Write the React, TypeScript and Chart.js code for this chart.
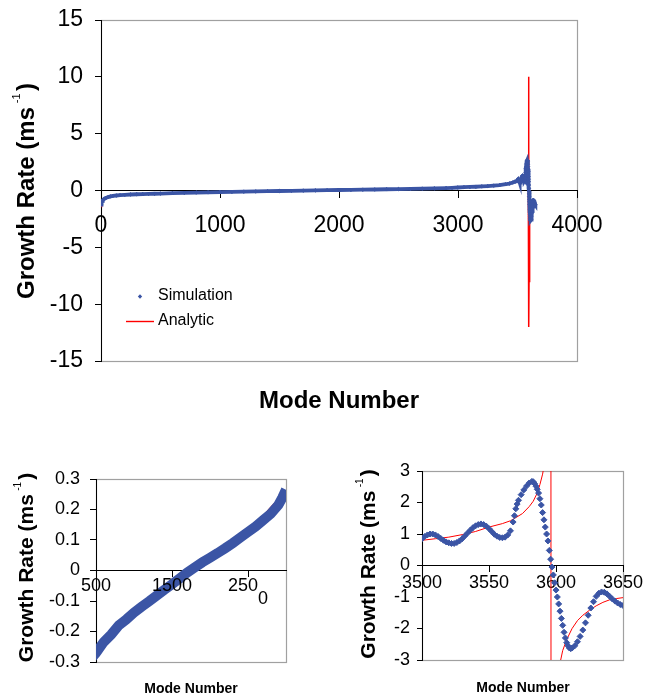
import React, { useEffect, useRef } from 'react';
import { Chart, registerables } from 'chart.js';

Chart.register(...registerables);

const FONT = "'Liberation Sans', Arial, Helvetica, sans-serif";
const BLUE = '#3b55a5';
const RED = '#ff0000';
const FRAME = '#a0a0a0';

// ---- Simulation: mode number vs growth rate (coarse part, 0..3480) ----
const SIM_MODE_A = [0, 3, 6, 10, 15, 20, 30, 40, 60, 80, 100, 130, 160, 200, 250, 300, 350, 400, 450, 500, 600, 700, 800, 900, 1000, 1100, 1200, 1300, 1400, 1500, 1600, 1700, 1800, 1900, 2000, 2100, 2200, 2300, 2400, 2500, 2600, 2700, 2800, 2900, 2950, 3000, 3050, 3100, 3150, 3200, 3250, 3300, 3350, 3400, 3430, 3460, 3480];
const SIM_RATE_A = [-1.25, -1.1, -1.0, -0.92, -0.85, -0.8, -0.72, -0.66, -0.58, -0.52, -0.48, -0.44, -0.41, -0.38, -0.35, -0.33, -0.31, -0.295, -0.285, -0.27, -0.235, -0.21, -0.18, -0.16, -0.138, -0.119, -0.101, -0.082, -0.063, -0.045, -0.026, -0.007, 0.01, 0.027, 0.042, 0.057, 0.073, 0.09, 0.108, 0.126, 0.144, 0.165, 0.186, 0.215, 0.238, 0.265, 0.29, 0.31, 0.33, 0.36, 0.39, 0.43, 0.48, 0.55, 0.61, 0.7, 0.78];

// ---- Simulation: fine part, 3500..3650 ----
const SIM_MODE_B = [3500, 3502, 3504, 3506, 3508, 3510, 3512, 3514, 3516, 3518, 3520, 3522, 3524, 3526, 3528, 3530, 3532, 3534, 3536, 3538, 3540, 3542, 3544, 3546, 3548, 3550, 3552, 3554, 3556, 3558, 3560, 3562, 3564, 3566, 3568, 3569, 3570, 3571, 3572, 3574, 3576, 3578, 3580, 3582, 3583, 3584, 3585, 3586, 3587, 3588, 3589, 3590, 3591, 3592, 3593, 3594, 3595, 3596, 3597, 3598, 3599, 3600, 3601, 3602, 3603, 3604, 3605, 3606, 3607, 3608, 3609, 3610, 3611, 3612, 3614, 3616, 3618, 3620, 3622, 3624, 3626, 3628, 3630, 3632, 3634, 3636, 3638, 3640, 3642, 3644, 3646, 3648, 3650];
const SIM_RATE_B = [0.85, 0.92, 0.97, 1.0, 1.0, 0.97, 0.92, 0.86, 0.8, 0.75, 0.72, 0.7, 0.7, 0.73, 0.78, 0.85, 0.94, 1.03, 1.12, 1.2, 1.26, 1.3, 1.32, 1.3, 1.25, 1.17, 1.08, 0.99, 0.93, 0.89, 0.88, 0.9, 0.97, 1.1, 1.38, 1.58, 1.8, 1.95, 2.07, 2.25, 2.4, 2.52, 2.62, 2.67, 2.66, 2.6, 2.52, 2.42, 2.3, 2.12, 1.92, 1.68, 1.45, 1.22, 1.0, 0.78, 0.48, 0.2, -0.05, -0.3, -0.55, -0.78, -1.0, -1.22, -1.45, -1.68, -1.9, -2.12, -2.3, -2.45, -2.55, -2.62, -2.64, -2.62, -2.55, -2.42, -2.25, -2.05, -1.82, -1.58, -1.35, -1.15, -0.98, -0.88, -0.84, -0.85, -0.9, -0.98, -1.06, -1.13, -1.19, -1.24, -1.27];

// ---- Analytic ----
const ANA_MODE = [0, 5, 10, 20, 50, 100, 200, 300, 500, 1000, 1500, 1700, 2000, 2500, 3000, 3200, 3400, 3500, 3510, 3520, 3530, 3540, 3550, 3560, 3566, 3570, 3575, 3580, 3583, 3586, 3588, 3590, 3591, 3593, 3595, 3596.2, 3596.3, 3597, 3599, 3601, 3603, 3605, 3608, 3612, 3616, 3620, 3625, 3630, 3635, 3640, 3645, 3650];
const ANA_RATE = [-1.4, -1.0, -0.9, -0.78, -0.62, -0.48, -0.38, -0.33, -0.28, -0.14, -0.043, -0.006, 0.043, 0.128, 0.262, 0.35, 0.55, 0.8, 0.85, 0.9, 0.98, 1.08, 1.22, 1.33, 1.42, 1.52, 1.65, 1.87, 2.04, 2.3, 2.57, 2.9, 3.15, 4.2, 6.5, 10, -12, -8, -5, -3.9, -3.1, -2.7, -2.35, -2.0, -1.75, -1.58, -1.42, -1.28, -1.17, -1.09, -1.05, -1.02];

// ---- Tick values / labels ----
const TOP_X_TICKS = [0, 1000, 2000, 3000, 4000];
const TOP_Y_TICKS = [-15, -10, -5, 0, 5, 10, 15];
const BL_X_TICKS = [500, 1500, 2500];
const BL_X_LABELS: (string | string[])[] = ['500', '1500', ['250  ', '      0']];
const BL_Y_TICKS = [-0.3, -0.2, -0.1, 0, 0.1, 0.2, 0.3];
const BR_X_TICKS = [3500, 3550, 3600, 3650];
const BR_Y_TICKS = [-3, -2, -1, 0, 1, 2, 3];

const SERIES_SIM = 'Simulation';
const SERIES_ANA = 'Analytic';
const X_TITLE = 'Mode Number';

const pts = (xs: number[], ys: number[]) => xs.map((x, i) => ({ x, y: ys[i] }));
const SIM_ALL = pts(SIM_MODE_A.concat(SIM_MODE_B), SIM_RATE_A.concat(SIM_RATE_B));
const SIM_FINE = pts(SIM_MODE_B, SIM_RATE_B);
const ANA_ALL = pts(ANA_MODE, ANA_RATE);

function xAxis(min: number, max: number, ticks: number[], size: number, tickLen: number, pad: number, label: (v: number) => any, lineHeight?: number, z = 0) {
  return {
    type: 'linear',
    position: { y: 0 },
    min,
    max,
    afterBuildTicks: (a: any) => {
      a.ticks = ticks.map((v) => ({ value: v }));
    },
    ticks: {
      color: '#000',
      font: lineHeight ? { size, family: FONT, lineHeight } : { size, family: FONT },
      padding: pad,
      autoSkip: false,
      maxRotation: 0,
      minRotation: 0,
      z,
      callback: (v: any) => label(Number(v)),
    },
    grid: { display: true, drawOnChartArea: false, drawTicks: true, tickLength: tickLen, color: '#000', tickColor: '#000', lineWidth: 1 },
    border: { display: true, color: '#000', width: 1 },
  };
}

function yAxis(min: number, max: number, ticks: number[], size: number, tickLen: number, pad: number, width: number) {
  return {
    type: 'linear',
    position: 'left',
    min,
    max,
    afterBuildTicks: (a: any) => {
      a.ticks = ticks.map((v) => ({ value: v }));
    },
    afterFit: (a: any) => {
      a.width = width;
      a.paddingTop = 0;
      a.paddingBottom = 0;
    },
    ticks: {
      color: '#000',
      font: { size, family: FONT },
      padding: pad,
      autoSkip: false,
      callback: (v: any) => (Number(v) === 0 ? '0' : String(Number(v))),
    },
    grid: { display: true, drawOnChartArea: false, drawTicks: true, tickLength: tickLen, color: '#000', tickColor: '#000', lineWidth: 1 },
    border: { display: true, color: '#000', width: 1 },
  };
}

const framePlugin = {
  id: 'grayFrame',
  beforeDraw(chart: any) {
    const { ctx, chartArea: a } = chart;
    ctx.save();
    ctx.strokeStyle = FRAME;
    ctx.lineWidth = 1.2;
    const l = Math.round(a.left) + 0.5;
    const t = Math.round(a.top) + 0.5;
    const r = Math.round(a.right) + 0.5;
    const b = Math.round(a.bottom) + 0.5;
    ctx.strokeRect(l, t, r - l, b - t);
    ctx.restore();
  },
};

function yTitlePlugin(cx: number, cy: number, size: number, supSize: number, rise: number) {
  return {
    id: 'yTitle',
    afterDraw(chart: any) {
      const ctx = chart.ctx;
      ctx.save();
      ctx.translate(cx, cy);
      ctx.rotate(-Math.PI / 2);
      ctx.fillStyle = '#000';
      ctx.textBaseline = 'alphabetic';
      ctx.textAlign = 'left';
      const bold = `bold ${size}px ${FONT}`;
      const reg = `${supSize}px ${FONT}`;
      const main = 'Growth Rate (ms';
      const sup = '-1';
      const close = ')';
      ctx.font = bold;
      const w1 = ctx.measureText(main).width;
      const w3 = ctx.measureText(close).width;
      ctx.font = reg;
      const w2 = ctx.measureText(sup).width;
      const g1 = size * 0.16;
      const g2 = size * 0.1;
      let x = -(w1 + g1 + w2 + g2 + w3) / 2;
      ctx.font = bold;
      ctx.fillText(main, x, 0);
      x += w1 + g1;
      ctx.font = reg;
      ctx.fillText(sup, x, -rise);
      x += w2 + g2;
      ctx.font = bold;
      ctx.fillText(close, x, 0);
      ctx.restore();
    },
  };
}

function xTitlePlugin(cx: number, cy: number, size: number) {
  return {
    id: 'xTitle',
    afterDraw(chart: any) {
      const ctx = chart.ctx;
      ctx.save();
      ctx.fillStyle = '#000';
      ctx.font = `bold ${size}px ${FONT}`;
      ctx.textAlign = 'center';
      ctx.textBaseline = 'middle';
      ctx.fillText(X_TITLE, cx, cy);
      ctx.restore();
    },
  };
}

const legendPlugin = {
  id: 'legendBox',
  afterDraw(chart: any) {
    const ctx = chart.ctx;
    ctx.save();
    ctx.fillStyle = BLUE;
    ctx.beginPath();
    ctx.moveTo(137.8, 296.5);
    ctx.lineTo(140, 294.3);
    ctx.lineTo(142.2, 296.5);
    ctx.lineTo(140, 298.7);
    ctx.closePath();
    ctx.fill();
    ctx.strokeStyle = RED;
    ctx.globalAlpha = 1;
    ctx.lineWidth = 1.4;
    ctx.beginPath();
    ctx.moveTo(126, 321.5);
    ctx.lineTo(154, 321.5);
    ctx.stroke();
    ctx.fillStyle = '#000';
    ctx.font = `16px ${FONT}`;
    ctx.textAlign = 'left';
    ctx.textBaseline = 'middle';
    ctx.fillText(SERIES_SIM, 158, 295.5);
    ctx.fillText(SERIES_ANA, 158, 321);
    ctx.restore();
  },
};

const baseOptions = {
  responsive: false,
  maintainAspectRatio: false,
  animation: false,
  events: [],
  plugins: { legend: { display: false }, tooltip: { enabled: false }, title: { display: false } },
};

function topConfig(): any {
  return {
    type: 'scatter',
    data: {
      datasets: [
        { label: SERIES_SIM, data: SIM_ALL, showLine: true, borderColor: BLUE, borderWidth: 3.8, pointStyle: 'rectRot', pointRadius: 1.8, pointBorderWidth: 1, pointBackgroundColor: BLUE, pointBorderColor: BLUE, order: 0 },
        { label: SERIES_ANA, data: ANA_ALL, showLine: true, borderColor: RED, borderWidth: 1.5, pointRadius: 0, order: 1 },
      ],
    },
    options: {
      ...baseOptions,
      layout: { padding: { left: 0, right: 69, top: 20, bottom: 59 } },
      scales: {
        x: xAxis(0, 4000, TOP_X_TICKS, 23, 7, 14, (v) => String(v)),
        y: yAxis(-15, 15, TOP_Y_TICKS, 23, 6, 12, 101),
      },
    },
    plugins: [framePlugin, yTitlePlugin(34, 191, 24, 11, 14), xTitlePlugin(339, 401, 24), legendPlugin],
  };
}

function blConfig(): any {
  return {
    type: 'scatter',
    data: {
      datasets: [
        { label: SERIES_SIM, data: SIM_ALL, showLine: true, borderColor: BLUE, borderWidth: 10, pointRadius: 0, order: 0 },
        { label: SERIES_ANA, data: ANA_ALL, showLine: true, borderColor: RED, borderWidth: 1, pointRadius: 0, order: 1 },
      ],
    },
    options: {
      ...baseOptions,
      layout: { padding: { left: 0, right: 34, top: 39, bottom: 34 } },
      scales: {
        x: xAxis(500, 3000, BL_X_TICKS, 18, 6, 3, (v) => BL_X_LABELS[BL_X_TICKS.indexOf(v)] ?? String(v), 0.72, 1),
        y: yAxis(-0.3, 0.3, BL_Y_TICKS, 18, 6, 10, 96),
      },
    },
    plugins: [framePlugin, yTitlePlugin(33, 127.5, 21, 10, 12.5), xTitlePlugin(191, 249, 14)],
  };
}

function brConfig(): any {
  return {
    type: 'scatter',
    data: {
      datasets: [
        { label: SERIES_SIM, data: SIM_FINE, showLine: false, pointStyle: 'rectRot', pointRadius: 3, pointBorderWidth: 1, pointBackgroundColor: BLUE, pointBorderColor: BLUE, order: 0 },
        { label: SERIES_ANA, data: ANA_ALL, showLine: true, borderColor: RED, borderWidth: 1, pointRadius: 0, order: 1 },
      ],
    },
    options: {
      ...baseOptions,
      layout: { padding: { left: 0, right: 23, top: 31, bottom: 36 } },
      scales: {
        x: xAxis(3500, 3650, BR_X_TICKS, 18, 6, 1, (v) => String(v)),
        y: yAxis(-3, 3, BR_Y_TICKS, 18, 5, 7, 92),
      },
    },
    plugins: [framePlugin, yTitlePlugin(45, 124, 21, 10, 12.5), xTitlePlugin(193, 248, 14)],
  };
}

function ChartCanvas(props: { left: number; top: number; width: number; height: number; make: () => any }) {
  const ref = useRef<HTMLCanvasElement>(null);
  useEffect(() => {
    const chart = new Chart(ref.current as HTMLCanvasElement, props.make());
    return () => chart.destroy();
  }, []);
  return (
    <canvas
      ref={ref}
      width={props.width}
      height={props.height}
      style={{ position: 'absolute', left: props.left, top: props.top, width: props.width, height: props.height }}
    />
  );
}

export default function App() {
  return (
    <div style={{ position: 'absolute', left: 0, top: 0, width: 646, height: 696, background: '#fff', overflow: 'hidden' }}>
      <ChartCanvas left={0} top={0} width={646} height={420} make={topConfig} />
      <ChartCanvas left={0} top={440} width={320} height={256} make={blConfig} />
      <ChartCanvas left={330} top={440} width={316} height={256} make={brConfig} />
    </div>
  );
}
